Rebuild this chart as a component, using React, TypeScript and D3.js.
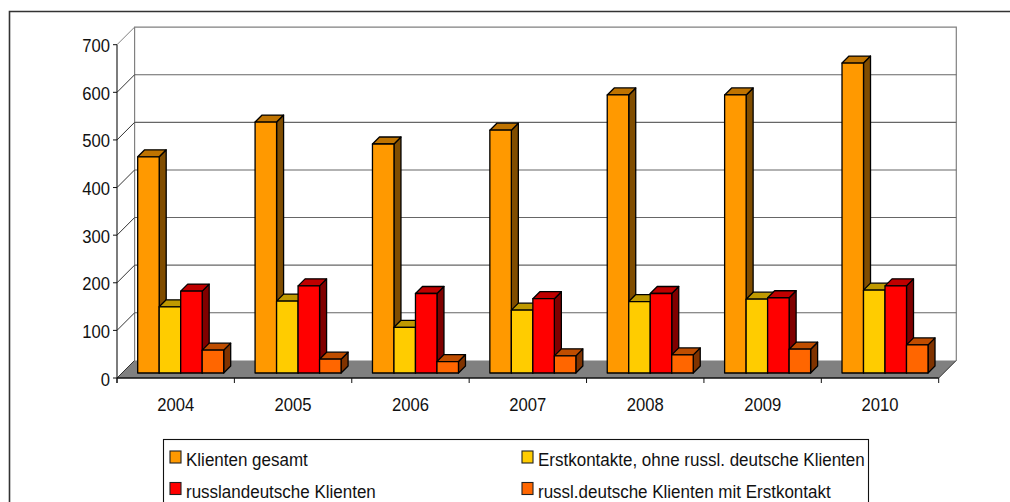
import React from "react";
import * as d3 from "d3";

const years = ["2004", "2005", "2006", "2007", "2008", "2009", "2010"];
const seriesNames = [
  "Klienten gesamt",
  "Erstkontakte, ohne russl. deutsche Klienten",
  "russlandeutsche Klienten",
  "russl.deutsche Klienten mit Erstkontakt",
];
const gesamt = [454, 527, 481, 510, 584, 584, 651];
const erstkontakte = [139, 151, 96, 132, 150, 155, 174];
const russland = [172, 183, 167, 156, 167, 158, 183];
const russlMitErst = [48, 29, 24, 36, 38, 50, 59];
const seriesValues = [gesamt, erstkontakte, russland, russlMitErst];
const faceColors = ["#FF9900", "#FFCC00", "#FF0000", "#FF6600"];
const topColors = ["#BF7300", "#BF9900", "#BF0000", "#BF4D00"];
const sideColors = ["#804D00", "#806600", "#800000", "#803300"];
const yTicks = [0, 100, 200, 300, 400, 500, 600, 700];

const FONT = "'Liberation Sans', Arial, sans-serif";
const left = 117, right = 938.7, base = 378, top = 44.7;
const wall = 17.6, barOff = 5, barDepth = 7;

function Label({ x, y, sx, anchor, children }: { x: number; y: number; sx: number; anchor?: string; children: React.ReactNode }) {
  return (
    <text transform={`translate(${x},${y}) scale(${sx},1)`} fontSize={18.5} textAnchor={anchor ?? "start"}>
      {children}
    </text>
  );
}

export default function App() {
  const x = d3.scaleBand<string>().domain(years).range([left, right]);
  const y = d3.scaleLinear().domain([0, 700]).range([base, top]);
  const inner = d3.scaleBand<number>().domain([0, 1, 2, 3]).range([0, 86]);
  const poly = (p: number[][]) => p.map((q) => q.join(",")).join(" ");
  return (
    <svg width={1010} height={502} style={{ position: "absolute", left: 0, top: 0 }} fontFamily={FONT} fill="#111">
      <rect width={1010} height={502} fill="#fff" />
      <path d="M9.5,502V11.5H1010" fill="none" stroke="#333" strokeWidth={1.6} />
      {/* floor */}
      <polygon
        points={poly([[left, base], [right, base], [right + wall, base - wall], [left + wall, base - wall]])}
        fill="#808080"
      />
      {/* walls */}
      <path
        d={`M${left + wall},${base - wall}V${top - wall}H${right + wall}V${base - wall}`}
        fill="none"
        stroke="#808080"
        strokeWidth={1.2}
      />
      {yTicks.map((t) => (
        <g key={t}>
          {t > 0 && t < 700 && (
            <line x1={left + wall} x2={right + wall} y1={y(t) - wall} y2={y(t) - wall} stroke="#666" strokeWidth={1.1} />
          )}
          <line
            x1={left}
            x2={left + wall}
            y1={y(t)}
            y2={y(t) - wall}
            stroke={t === 700 ? "#808080" : "#333"}
            strokeWidth={1}
          />
          <line x1={left - 4} x2={left} y1={y(t)} y2={y(t)} stroke="#111" />
          <Label x={110} y={y(t) + 7.5} sx={0.9} anchor="end">{t}</Label>
        </g>
      ))}
      {/* axes */}
      <line x1={left} x2={left} y1={top} y2={base + 5} stroke="#111" strokeWidth={1.1} />
      <line x1={left} x2={right} y1={base} y2={base} stroke="#111" strokeWidth={1.5} />
      <line x1={right} x2={right + wall} y1={base} y2={base - wall} stroke="#333" strokeWidth={1} />
      <line x1={right} x2={right} y1={base} y2={base + 5} stroke="#111" />
      {years.map((yr) => (
        <g key={yr}>
          <line x1={x(yr)!} x2={x(yr)!} y1={base} y2={base + 5} stroke="#111" />
          <Label x={x(yr)! + x.bandwidth() / 2} y={410.5} sx={0.9} anchor="middle">{yr}</Label>
        </g>
      ))}
      {/* bars */}
      {years.map((yr, i) => {
        const x0 = x(yr)! + (x.bandwidth() - 86) / 2 + barOff;
        return (
          <g key={yr}>
            {seriesValues.map((vals, s) => {
              const xa = x0 + inner(s)!;
              const xb = xa + inner.bandwidth();
              const yt = y(vals[i]) - barOff;
              const yb = base - barOff;
              const d = barDepth;
              return (
                <g key={s} stroke="#000" strokeWidth={1.3} strokeLinejoin="round">
                  <polygon points={poly([[xb, yt], [xb + d, yt - d], [xb + d, yb - d], [xb, yb]])} fill={sideColors[s]} />
                  <polygon points={poly([[xa, yt], [xa + d, yt - d], [xb + d, yt - d], [xb, yt]])} fill={topColors[s]} />
                  <rect x={xa} y={yt} width={xb - xa} height={yb - yt} fill={faceColors[s]} />
                </g>
              );
            })}
          </g>
        );
      })}
      {/* legend */}
      <rect x={163.5} y={439.5} width={705} height={80} fill="#fff" stroke="#111" strokeWidth={1.1} />
      {seriesNames.map((name, s) => {
        const lx = s % 2 === 0 ? 170 : 522;
        const ly = s < 2 ? 451 : 482.5;
        return (
          <g key={name}>
            <rect x={lx} y={ly} width={11} height={12} fill={faceColors[s]} stroke="#222" strokeWidth={1.1} />
            <Label x={lx + 16} y={ly + 15} sx={0.919}>{name}</Label>
          </g>
        );
      })}
    </svg>
  );
}
